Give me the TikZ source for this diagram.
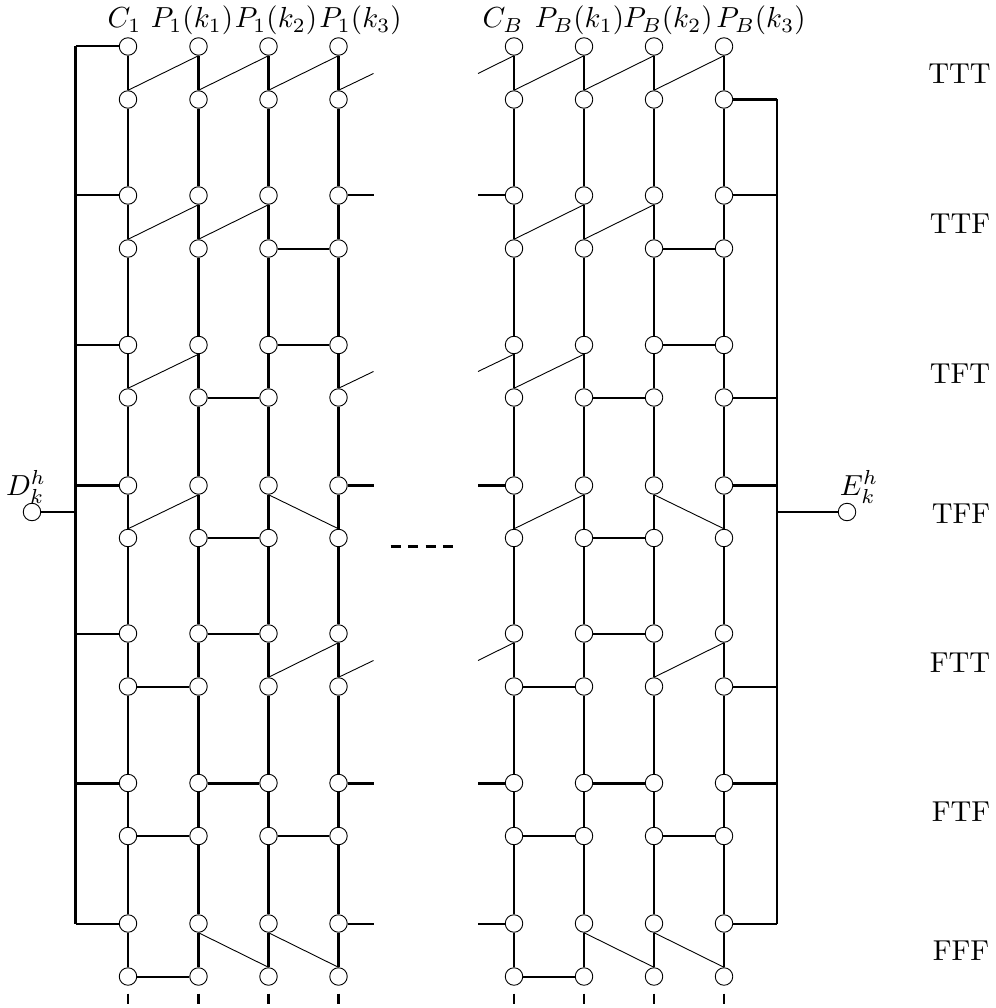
\documentclass[tikz,border=0pt]{standalone}
\begin{document}
\begin{tikzpicture}[x=1pt,y=-1pt,
  pt/.style={circle,draw,fill=white,inner sep=0pt,minimum size=17.5pt,line width=0.9pt},
  vthin/.style={line width=2pt},
  vthick/.style={line width=3pt},
  hthin/.style={line width=2pt},
  hthick/.style={line width=3pt},
  diag/.style={line width=0.9pt},
  busl/.style={line width=3.5pt},
  busr/.style={line width=2.4pt},
  lab/.style={scale=2.9,anchor=base,inner sep=0pt},
  txt/.style={scale=2.88,anchor=base,inner sep=0pt}]
\useasboundingbox (0,-0.5) rectangle (995,1007.5);
% junction and free-end coordinates
\foreach \r/\y in {1/46,2/99,3/195,4/248,5/344.5,6/397,7/485,8/537.5,9/633,10/686,11/782.5,12/835.5,13/923,14/976}{
  \foreach \c/\x in {a/128,b/198.5,c/268.5,d/338.5,e/514,f/584,g/654,h/724}{
    \node[pt] (\c\r) at (\x,\y) {};
  }
  \coordinate (L\r) at (75.5,\y);
  \coordinate (R\r) at (777,\y);
  \coordinate (SL\r) at (373.5,\y);
  \coordinate (SR\r) at (478,\y);
}
\foreach \c/\x in {a/128,b/198.5,c/268.5,d/338.5,e/514,f/584,g/654,h/724}{
  \coordinate (\c top) at (\x,993);
  \coordinate (\c bot) at (\x,1003.5);
}
\coordinate (LD) at (75.5,511.5);
\coordinate (RE) at (777,511.5);
\coordinate (dg1) at (373.5,73);
\coordinate (dg2) at (373.5,371);
\coordinate (dg3) at (373.5,660);
\coordinate (eg1) at (478,73);
\coordinate (eg2) at (478,371);
\coordinate (eg3) at (478,660);
\coordinate (dashA) at (390.7,546);
\coordinate (dashB) at (454,546);
\node[pt] (D) at (32,511.5) {};
\node[pt] (E) at (847,511.5) {};
% columns
\foreach \c/\s in {a/vthin,b/vthick,c/vthick,d/vthick,e/vthin,f/vthin,g/vthin,h/vthin}{
  \draw[\s] (\c1)--(\c2)--(\c3)--(\c4)--(\c5)--(\c6)--(\c7)--(\c8)--(\c9)--(\c10)--(\c11)--(\c12)--(\c13)--(\c14);
  \draw[\s] (\c top)--(\c bot);
}
% buses
\draw[busl] (L1)--(L13);
\draw[busr] (R2)--(R13);
\draw[hthin] (D)--(LD);
\draw[hthin] (RE)--(E);
% bus branches
\foreach \r in {1,3,5,9,13} \draw[hthin] (L\r)--(a\r);
\foreach \r in {7,11} \draw[hthick] (L\r)--(a\r);
\foreach \r in {3,6,10,13} \draw[hthin] (h\r)--(R\r);
\foreach \r in {2,7,11} \draw[hthick] (h\r)--(R\r);
% stubs toward the gap
\foreach \r in {3,13}{
  \draw[hthin] (d\r)--(SL\r);
  \draw[hthin] (SR\r)--(e\r);
}
\foreach \r in {7,11}{
  \draw[hthick] (d\r)--(SL\r);
  \draw[hthick] (SR\r)--(e\r);
}
% horizontal rungs
\foreach \p/\q in {c4/d4,g4/h4,c5/d5,g5/h5,b6/c6,f6/g6,b8/c8,f8/g8,b9/c9,f9/g9,a10/b10,e10/f10,a12/b12,c12/d12,e12/f12,g12/h12,a14/b14,e14/f14}
  \draw[hthin] (\p)--(\q);
\foreach \p/\q in {b11/c11,f11/g11}
  \draw[hthick] (\p)--(\q);
% diagonals
\foreach \p/\q in {a2/b1,b2/c1,c2/d1,e2/f1,f2/g1,g2/h1,a4/b3,b4/c3,e4/f3,f4/g3,a6/b5,e6/f5,a8/b7,e8/f7,c10/d9,g10/h9}
  \draw[diag] (\p.north)--(\q.south);
\foreach \p/\q in {c7/d8,g7/h8,b13/c14,c13/d14,f13/g14,g13/h14}
  \draw[diag] (\p.south)--(\q.north);
\draw[diag] (d2.north)--(dg1);
\draw[diag] (d6.north)--(dg2);
\draw[diag] (d10.north)--(dg3);
\draw[diag] (eg1)--(e1.south);
\draw[diag] (eg2)--(e5.south);
\draw[diag] (eg3)--(e9.south);
% ellipsis
\draw[line width=3pt,dash pattern=on 10pt off 7.4pt] (dashA)--(dashB);
% labels
\node[lab] (t1) at (124.5,27.5) {$C_1$};
\node[lab] (t2) at (192,27.5) {$P_1(k_1)$};
\node[lab] (t3) at (276,27.5) {$P_1(k_2)$};
\node[lab] (t4) at (360.5,27.5) {$P_1(k_3)$};
\node[lab] (t5) at (503,27.5) {$C_B$};
\node[lab] (t6) at (579.5,27.5) {$P_B(k_1)$};
\node[lab] (t7) at (668,27.5) {$P_B(k_2)$};
\node[lab] (t8) at (761,27.5) {$P_B(k_3)$};
\node[lab] (tD) at (26,495) {$D_k^h$};
\node[lab] (tE) at (859,495) {$E_k^h$};
\node[txt] (r1) at (959.5,83) {TTT};
\node[txt] (r2) at (960,233) {TTF};
\node[txt] (r3) at (960,383) {TFT};
\node[txt] (r4) at (961,523) {TFF};
\node[txt] (r5) at (960,672) {FTT};
\node[txt] (r6) at (961,821) {FTF};
\node[txt] (r7) at (961,960) {FFF};
\end{tikzpicture}
\end{document}
